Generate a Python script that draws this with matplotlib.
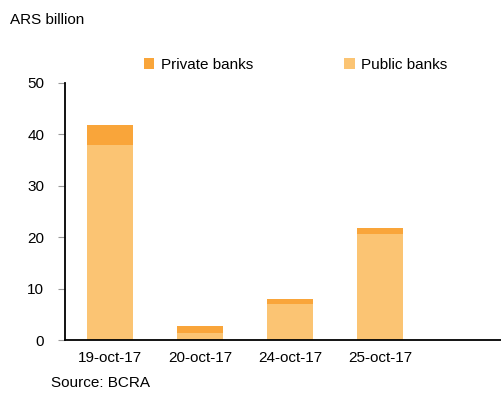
import matplotlib.pyplot as plt

plt.rcParams['font.family'] = ['Liberation Sans', 'DejaVu Sans']

dates = ['19-oct-17', '20-oct-17', '24-oct-17', '25-oct-17']
public_banks = [38.0, 1.4, 7.0, 20.6]
private_banks = [3.8, 1.3, 1.0, 1.2]

fig = plt.figure(figsize=(5.02, 3.94), dpi=100)
ax = fig.add_axes([65 / 502, 1 - 340 / 394, 1 - 65 / 502, (340 - 83) / 394])

x = range(len(dates))
ax.bar(x, public_banks, width=0.52, color='#FBC473', label='Public banks')
ax.bar(x, private_banks, width=0.52, bottom=public_banks, color='#F9A53A', label='Private banks')

ax.set_ylim(0, 50)
ax.set_xlim(-0.5, 4.356)
ax.set_yticks(range(0, 51, 10))
ax.set_xticks(list(x))
ax.set_xticklabels(dates)
ax.tick_params(axis='y', direction='out', length=5, color='#999999', labelsize=11, pad=10)
ax.tick_params(axis='x', length=0, labelsize=11, pad=8)
for s in ['top', 'right']:
    ax.spines[s].set_visible(False)
ax.spines['left'].set_linewidth(1.3)
ax.spines['bottom'].set_linewidth(1.3)

h, l = ax.get_legend_handles_labels()
fig.legend(h[::-1], l[::-1], ncol=2, frameon=False, fontsize=11,
           loc='center left', bbox_to_anchor=(130 / 502, 1 - 65 / 394),
           handlelength=0.7, handleheight=0.7, handletextpad=0.4, columnspacing=6.0)

fig.text(10 / 502, 1 - 20 / 394, 'ARS billion', fontsize=11, va='center')
fig.text(51 / 502, 1 - 383 / 394, 'Source: BCRA', fontsize=11, va='center')

fig.savefig('out.png', dpi=100)
